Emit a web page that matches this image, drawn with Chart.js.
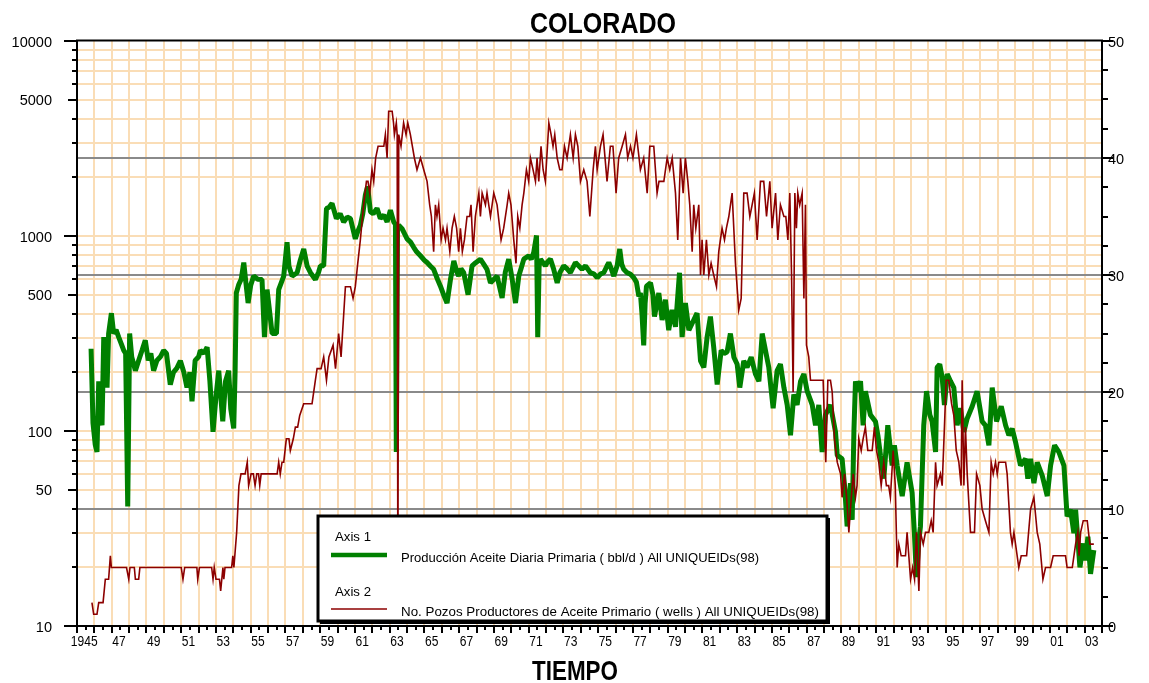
<!DOCTYPE html>
<html><head><meta charset="utf-8">
<script src="https://cdn.jsdelivr.net/npm/chart.js@4.4.0/dist/chart.umd.min.js"></script>
<style>html,body{margin:0;padding:0;background:#fff}canvas{display:block}</style>
</head><body>
<canvas id="c" width="1149" height="683"></canvas>
<script>
// ---------- DATA ----------
const chartTitle = 'COLORADO';
const xAxisTitle = 'TIEMPO';
const seriesNames = [
  'Producción Aceite Diaria Primaria ( bbl/d ) All UNIQUEIDs(98)',
  'No. Pozos Productores de Aceite Primario ( wells ) All UNIQUEIDs(98)'
];
const axisGroupNames = ['Axis 1', 'Axis 2'];
const leftTickLabels = [10, 50, 100, 500, 1000, 5000, 10000];
const rightTickLabels = [0, 10, 20, 30, 40, 50];
const xLabelYears = [1945,1947,1949,1951,1953,1955,1957,1959,1961,1963,1965,1967,1969,1971,1973,1975,1977,1979,1981,1983,1985,1987,1989,1991,1993,1995,1997,1999,2001,2003];

// Producción Aceite Diaria Primaria (bbl/d) - left log axis
const prodYears = [1945.81,1945.92,1946.05,1946.15,1946.25,1946.35,1946.44,1946.54,1946.63,1946.73,1946.82,1946.98,1947.11,1947.25,1947.4,1947.55,1947.69,1947.8,1947.92,1948.03,1948.15,1948.36,1948.55,1948.75,1948.93,1949.1,1949.25,1949.41,1949.6,1949.8,1949.99,1950.15,1950.37,1950.55,1950.75,1950.95,1951.15,1951.33,1951.5,1951.62,1951.8,1952.0,1952.1,1952.3,1952.49,1952.65,1952.83,1953.0,1953.16,1953.39,1953.55,1953.73,1953.85,1954.02,1954.1,1954.17,1954.3,1954.45,1954.6,1954.7,1954.85,1955.0,1955.17,1955.4,1955.65,1955.79,1955.94,1956.1,1956.23,1956.48,1956.61,1956.9,1957.09,1957.2,1957.38,1957.67,1957.85,1958.05,1958.25,1958.44,1958.72,1958.9,1959.01,1959.2,1959.36,1959.5,1959.68,1959.93,1960.15,1960.35,1960.55,1960.74,1961.02,1961.15,1961.31,1961.45,1961.6,1961.73,1961.89,1962.05,1962.27,1962.46,1962.66,1962.85,1963.04,1963.23,1963.33,1963.38,1963.45,1963.52,1963.71,1964.0,1964.2,1964.38,1964.55,1964.77,1965.0,1965.15,1965.35,1965.53,1965.75,1965.92,1966.1,1966.3,1966.5,1966.69,1966.85,1966.97,1967.1,1967.26,1967.51,1967.74,1967.95,1968.22,1968.4,1968.6,1968.8,1969.0,1969.18,1969.47,1969.65,1969.85,1970.05,1970.24,1970.43,1970.6,1970.72,1971.0,1971.15,1971.29,1971.45,1971.52,1971.6,1971.68,1971.96,1972.1,1972.25,1972.44,1972.64,1972.8,1973.02,1973.2,1973.4,1973.69,1973.9,1974.07,1974.27,1974.55,1974.75,1974.94,1975.15,1975.32,1975.5,1975.61,1975.75,1975.9,1976.09,1976.24,1976.35,1976.47,1976.65,1976.86,1977.05,1977.2,1977.34,1977.43,1977.52,1977.62,1977.7,1977.78,1978.01,1978.15,1978.24,1978.49,1978.68,1978.87,1979.06,1979.25,1979.45,1979.68,1979.83,1980.02,1980.22,1980.5,1980.69,1980.89,1981.08,1981.27,1981.46,1981.65,1981.85,1982.08,1982.25,1982.42,1982.61,1982.81,1983.0,1983.15,1983.38,1983.57,1983.81,1984.05,1984.25,1984.44,1984.63,1984.82,1985.07,1985.3,1985.49,1985.69,1985.88,1986.07,1986.26,1986.45,1986.65,1986.84,1987.03,1987.32,1987.51,1987.7,1987.89,1988.08,1988.37,1988.66,1988.76,1989.04,1989.2,1989.33,1989.52,1989.62,1989.72,1989.81,1989.9,1990.1,1990.25,1990.38,1990.67,1990.96,1991.1,1991.25,1991.44,1991.67,1991.92,1992.05,1992.21,1992.5,1992.78,1993.07,1993.2,1993.32,1993.46,1993.55,1993.74,1993.9,1994.09,1994.22,1994.42,1994.51,1994.66,1994.8,1994.93,1995.09,1995.28,1995.47,1995.66,1995.85,1996.05,1996.24,1996.53,1996.81,1997.1,1997.29,1997.49,1997.68,1997.93,1998.2,1998.45,1998.64,1998.83,1999.02,1999.31,1999.6,1999.73,1999.89,2000.08,2000.27,2000.56,2000.85,2001.04,2001.27,2001.52,2001.81,2001.99,2002.19,2002.38,2002.48,2002.73,2002.92,2003.05,2003.19,2003.34,2003.53];
const prodValues = [264,110,85,78,180,120,107,303,200,167,316,402,316,330,303,280,259,250,41,316,240,204,230,260,292,230,250,204,230,240,259,250,173,200,210,229,200,167,200,142,230,240,259,250,269,180,99,150,204,112,180,204,130,103,200,510,560,600,731,600,453,560,623,600,598,303,531,400,316,316,531,623,929,700,623,648,750,858,700,648,598,650,703,703,1386,1400,1471,1230,1300,1181,1250,1230,967,1050,1135,1300,1626,1796,1331,1300,1386,1230,1279,1181,1358,1181,1150,78,1100,1135,1090,967,930,875,830,792,750,731,700,675,600,553,500,453,600,746,660,623,680,648,500,703,730,761,720,675,575,600,623,481,650,761,600,453,623,700,761,792,760,824,1006,303,700,761,703,740,761,675,575,650,703,680,648,731,700,675,703,648,640,611,640,648,700,731,680,623,703,858,720,675,650,636,611,580,490,510,400,275,450,553,575,500,386,510,371,471,329,418,342,648,303,453,329,371,402,229,212,303,386,269,173,259,250,254,316,239,220,167,229,212,239,196,180,316,259,212,131,204,220,167,136,95,154,136,180,196,160,136,107,136,78,121,136,99,75,72,50,32.4,54,35,100,180,160,180,107,160,121,112,95,75,57,107,66.5,84.5,66.5,46.4,69,48.3,30,17.8,27.6,32.4,107,160,121,112,78,212,220,188,136,196,180,167,107,131,99,116,134,160,112,107,84.5,167,112,134,107,95,103,88,66.5,72,57,72,54,69,59,46.4,66.5,84.5,78,66.5,36.5,39.5,29.9,39.5,20,26.5,21.7,28.7,18.5,24.5];

// No. Pozos Productores (wells) - right linear axis
const wellYears = [1945.86,1945.96,1946.15,1946.25,1946.5,1946.63,1946.82,1946.92,1946.98,1947.85,1947.98,1948.05,1948.3,1948.36,1948.55,1948.62,1951.0,1951.1,1951.2,1951.9,1951.95,1952.05,1952.75,1952.83,1952.9,1953.0,1953.2,1953.27,1953.4,1953.45,1953.52,1953.9,1953.97,1954.03,1954.19,1954.32,1954.44,1954.68,1954.8,1954.88,1955.02,1955.15,1955.25,1955.35,1955.45,1955.52,1955.6,1956.52,1956.61,1956.7,1956.8,1956.9,1957.05,1957.2,1957.28,1957.45,1957.57,1957.7,1957.82,1958.05,1958.53,1958.72,1958.82,1959.05,1959.2,1959.36,1959.5,1959.74,1959.88,1960.06,1960.2,1960.45,1960.74,1960.89,1961.02,1961.16,1961.31,1961.5,1961.66,1961.75,1961.85,1961.98,1962.08,1962.19,1962.33,1962.66,1962.75,1962.85,1962.94,1963.14,1963.22,1963.27,1963.38,1963.43,1963.47,1963.52,1963.65,1963.8,1963.94,1964.04,1964.19,1964.42,1964.57,1964.77,1964.96,1965.15,1965.3,1965.4,1965.53,1965.63,1965.72,1965.82,1965.96,1966.07,1966.21,1966.3,1966.46,1966.59,1966.72,1966.85,1966.97,1967.07,1967.18,1967.3,1967.45,1967.6,1967.68,1967.8,1967.93,1968.03,1968.13,1968.22,1968.32,1968.51,1968.6,1968.8,1968.99,1969.18,1969.41,1969.56,1969.76,1969.85,1969.98,1970.14,1970.27,1970.37,1970.49,1970.62,1970.72,1970.87,1971.0,1971.1,1971.25,1971.39,1971.48,1971.58,1971.71,1971.83,1971.96,1972.16,1972.29,1972.4,1972.5,1972.64,1972.79,1972.92,1973.06,1973.21,1973.4,1973.56,1973.69,1973.83,1973.98,1974.17,1974.36,1974.52,1974.71,1974.84,1974.94,1975.13,1975.28,1975.51,1975.7,1975.85,1976.03,1976.18,1976.38,1976.57,1976.7,1976.86,1977.0,1977.2,1977.43,1977.62,1977.82,1977.97,1978.2,1978.39,1978.5,1978.78,1978.97,1979.12,1979.26,1979.45,1979.58,1979.74,1979.89,1980.02,1980.16,1980.27,1980.41,1980.5,1980.62,1980.79,1980.89,1980.98,1981.08,1981.23,1981.37,1981.5,1981.65,1981.81,1981.94,1982.13,1982.27,1982.38,1982.52,1982.71,1982.9,1983.09,1983.23,1983.38,1983.57,1983.73,1983.86,1983.99,1984.15,1984.34,1984.53,1984.69,1984.88,1985.01,1985.21,1985.34,1985.49,1985.69,1985.8,1985.92,1986.03,1986.13,1986.22,1986.32,1986.41,1986.49,1986.6,1986.74,1986.84,1986.93,1986.99,1987.12,1987.22,1987.95,1988.03,1988.1,1988.22,1988.37,1988.47,1988.6,1988.76,1988.95,1989.04,1989.18,1989.3,1989.43,1989.52,1989.68,1989.81,1989.9,1990.0,1990.14,1990.25,1990.38,1990.52,1990.77,1990.9,1991.02,1991.15,1991.29,1991.44,1991.59,1991.72,1991.82,1991.98,1992.1,1992.21,1992.3,1992.44,1992.69,1992.78,1992.98,1993.1,1993.21,1993.32,1993.46,1993.55,1993.71,1993.84,1994.03,1994.17,1994.28,1994.42,1994.51,1994.7,1994.8,1994.93,1995.03,1995.18,1995.34,1995.47,1995.61,1995.76,1995.89,1995.95,1996.05,1996.14,1996.24,1996.43,1996.66,1996.78,1996.97,1997.1,1997.29,1997.49,1997.62,1997.74,1997.87,1997.97,1998.06,1998.45,1998.54,1998.73,1998.83,1998.93,1999.21,1999.35,1999.66,1999.89,2000.08,2000.27,2000.42,2000.6,2000.75,2001.04,2001.19,2001.9,2001.99,2002.29,2002.48,2002.61,2002.68,2002.77,2002.92,2003.15,2003.3,2003.53];
const wellValues = [2,1,1,2,2,4,4,6,5,5,4,5,5,4,4,5,5,4,5,5,4,5,5,4,5,4,4,3,5,4,5,5,6,5,8,12,13,13,14,12,13,13,12,13,13,12,13,13,14,13,14,14,16,16,15,16,17,17,18,19,19,21,22,22,23,21,23,24,22,25,23,29,29,28,29,31,33,36,38,38,37,39,38,40,41,41,42,40,44,44,43,42,43,42,2,42,41,43,42,43,42,40,39,40,39,38,36,35,32,36,35,36,33,34,33,34,32,34,35,34,32,34,32,33,35,35,36,32,35,36,37,35,37,36,37,35,37,36,33,34,36,37,36,33,31,35,34,36,37,39,38,40,39,38,40,38,41,39,38,43,42,41,42,40,39,39,41,40,42,40,42,41,38,39,38,35,39,41,39,41,42,38,41,41,37,40,41,42,40,41,40,42,39,40,37,41,41,37,38,38,40,39,40,37,33,40,37,40,38,36,32,36,34,36,30,33,30,33,30,31,30,29,32,34,33,34,35,37,31,27,28,37,37,35,36,37,33,38,38,35,38,34,37,33,36,35,35,33,37,30,20,37,34,37,36,37,28,36,24,23,21,21,17,14,21,21,20,16,14,13,11,13,11,8,10,13,11,12,16,15,16,17,15,15,17,15,14,12,14,12,12,11,15,12,5,7,6,6,8,4,5,4,8,3,8,7,8,8,9,8,14,12,13,12,17,21,21,19,18,15,14,12,21,12,17,13,8,8,13,12,10,9,8,14,13,14,13,14,14,13,8,7,8,5,6,6,10,11,8,7,4,5,5,6,6,5,5,7,8,6,8,9,9,7,7];

// ---------- STYLE ----------
const ORANGE = 'rgb(250,221,182)';
const GREY = 'rgb(138,138,138)';
const GREEN = 'rgb(0,128,0)';
const RED = 'rgb(140,0,0)';
const FONT = '"Liberation Sans", Arial, sans-serif';

function drawText(ctx, s, x, y, size, weight, align, sx) {
  ctx.save();
  ctx.font = weight + ' ' + size + 'px ' + FONT;
  ctx.fillStyle = '#000';
  ctx.textBaseline = 'alphabetic';
  ctx.textAlign = align;
  ctx.translate(x, y);
  ctx.scale(sx, 1);
  ctx.fillText(s, 0, 0);
  ctx.restore();
}
function drawFit(ctx, s, left, y, size, weight, width) {
  ctx.save();
  ctx.font = weight + ' ' + size + 'px ' + FONT;
  const w = ctx.measureText(s).width;
  ctx.restore();
  drawText(ctx, s, left, y, size, weight, 'left', width / w);
}
function line(ctx, x1, y1, x2, y2) {
  ctx.beginPath(); ctx.moveTo(x1, y1); ctx.lineTo(x2, y2); ctx.stroke();
}

const logValues = [];
for (let d = 10; d <= 1000; d *= 10) for (let m = 1; m <= 9; m++) logValues.push(d * m);
logValues.push(10000);

const decor = {
  id: 'decor',
  beforeDatasetsDraw(chart) {
    const { ctx, chartArea: a, scales } = chart;
    const x = scales.x, y = scales.y, y2 = scales.y2;
    ctx.save();
    ctx.strokeStyle = ORANGE; ctx.lineWidth = 2;
    for (let yr = 1946; yr <= 2003; yr++) {
      const px = Math.round(x.getPixelForValue(yr));
      line(ctx, px, a.top, px, a.bottom);
    }
    logValues.forEach(v => {
      if (v <= 10 || v >= 10000) return;
      const py = Math.round(y.getPixelForValue(v));
      line(ctx, a.left, py, a.right, py);
    });
    ctx.strokeStyle = GREY; ctx.lineWidth = 2;
    [10, 20, 30, 40].forEach(v => {
      const py = Math.round(y2.getPixelForValue(v));
      line(ctx, a.left, py, a.right, py);
    });
    ctx.restore();
  },
  afterDatasetsDraw(chart) {
    const { ctx, chartArea: a, scales } = chart;
    const x = scales.x, y = scales.y, y2 = scales.y2;
    ctx.save();
    // legend box
    const L = 318, T = 516, R = 827, B = 621;
    ctx.fillStyle = '#000';
    ctx.fillRect(L + 2, T + 2, R - L + 1, B - T + 1);
    ctx.fillStyle = '#fff';
    ctx.fillRect(L, T, R - L, B - T);
    ctx.strokeStyle = '#000'; ctx.lineWidth = 3;
    ctx.strokeRect(L, T, R - L, B - T);
    drawFit(ctx, axisGroupNames[0], 335, 541, 13, 'normal', 36);
    ctx.strokeStyle = GREEN; ctx.lineWidth = 4.5;
    line(ctx, 331, 555, 387, 555);
    drawFit(ctx, seriesNames[0], 401, 562, 13, 'normal', 358);
    drawFit(ctx, axisGroupNames[1], 335, 596, 13, 'normal', 36);
    ctx.strokeStyle = RED; ctx.lineWidth = 1.5;
    line(ctx, 331, 609, 387, 609);
    drawFit(ctx, seriesNames[1], 401, 616, 13, 'normal', 418);

    // frame / axes
    ctx.strokeStyle = '#000'; ctx.lineWidth = 2;
    ctx.strokeRect(a.left, a.top - 0.5, a.right - a.left, a.bottom - a.top + 0.5);

    // left ticks + labels
    logValues.forEach(v => {
      const py = Math.round(y.getPixelForValue(v));
      const lead = v / Math.pow(10, Math.floor(Math.log10(v) + 1e-9));
      const len = Math.abs(lead - 1) < 1e-6 ? 13 : (Math.abs(lead - 5) < 1e-6 ? 9 : 5);
      line(ctx, a.left - len, py, a.left, py);
    });
    leftTickLabels.forEach(v => {
      const py = y.getPixelForValue(v);
      drawText(ctx, String(v), 52, py + 5.5, 15, 'normal', 'right', 0.97);
    });
    // right ticks + labels
    for (let v = 0; v <= 50; v += 2.5) {
      const py = Math.round(y2.getPixelForValue(v));
      const len = v % 10 === 0 ? 11 : 6;
      line(ctx, a.right, py, a.right + len, py);
    }
    rightTickLabels.forEach(v => {
      const py = y2.getPixelForValue(v);
      drawText(ctx, String(v), 1108, py + 5.5, 15, 'normal', 'left', 0.97);
    });
    // bottom ticks + labels
    for (let t = 1945; t <= 2004.001; t += 0.5) {
      const px = Math.round(x.getPixelForValue(t));
      const len = Number.isInteger(t) ? 7 : 4;
      line(ctx, px, a.bottom, px, a.bottom + len);
    }
    xLabelYears.forEach(yr => {
      const px = x.getPixelForValue(yr + 0.5) - 1.5;
      const s = yr === 1945 ? '1945' : String(yr % 100).padStart(2, '0');
      drawText(ctx, s, px, 646, 14, 'normal', 'center', 0.86);
    });
    // titles
    drawFit(ctx, chartTitle, 530, 33, 30, 'bold', 146);
    drawFit(ctx, xAxisTitle, 532, 680, 28, 'bold', 86);
    ctx.restore();
  }
};

const toPts = (xs, ys) => xs.map((v, i) => ({ x: v, y: ys[i] }));

new Chart(document.getElementById('c'), {
  type: 'line',
  data: {
    datasets: [
      { label: seriesNames[0], data: toPts(prodYears, prodValues), yAxisID: 'y',
        borderColor: GREEN, borderWidth: 5, pointRadius: 0, tension: 0,
        borderJoinStyle: 'bevel', fill: false, order: 1 },
      { label: seriesNames[1], data: toPts(wellYears, wellValues), yAxisID: 'y2',
        borderColor: RED, borderWidth: 1.6, pointRadius: 0, tension: 0,
        fill: false, order: 0 }
    ]
  },
  options: {
    responsive: false,
    animation: false,
    devicePixelRatio: 1,
    layout: { padding: { left: 77, right: 47, top: 41, bottom: 57 } },
    plugins: { legend: { display: false }, tooltip: { enabled: false }, title: { display: false } },
    scales: {
      x: { type: 'linear', min: 1945, max: 2004, display: false },
      y: { type: 'logarithmic', min: 10, max: 10000, display: false },
      y2: { type: 'linear', min: 0, max: 50, display: false }
    }
  },
  plugins: [decor]
});
</script>
</body></html>
